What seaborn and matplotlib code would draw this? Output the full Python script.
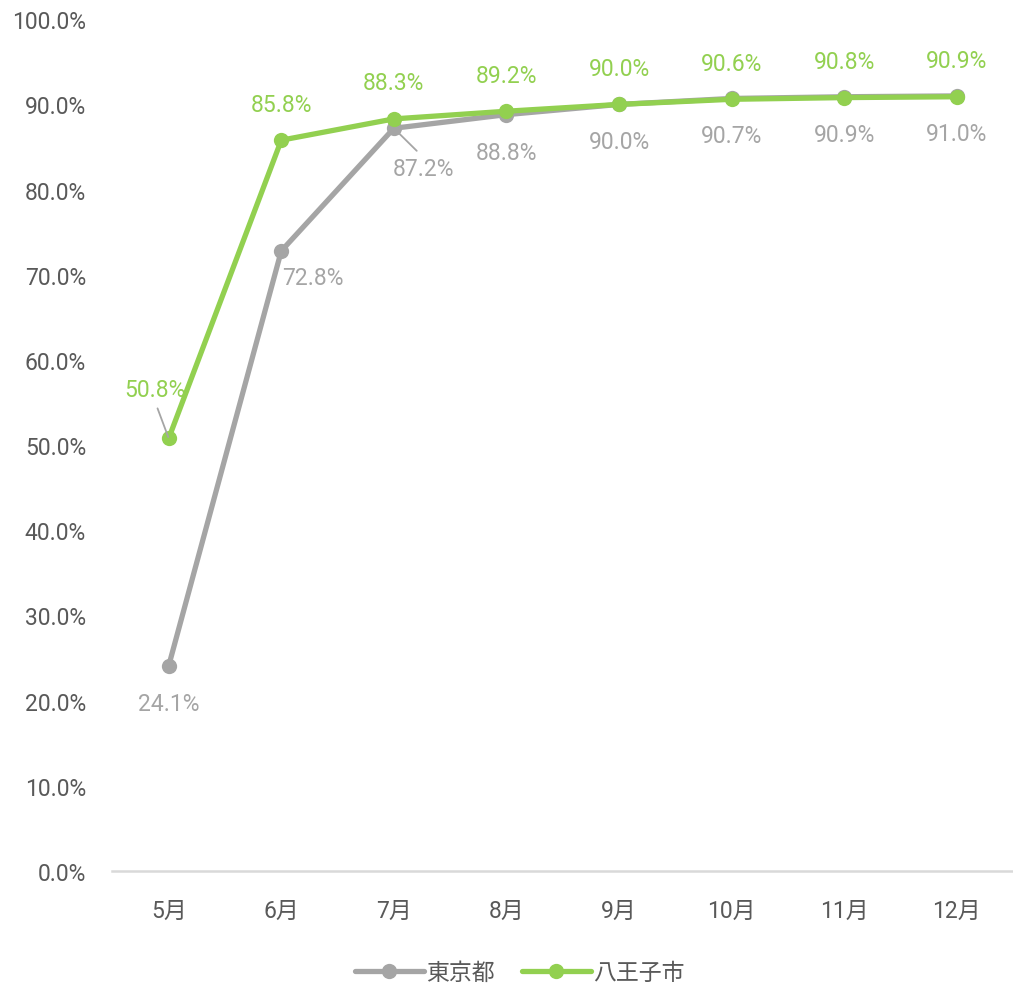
import matplotlib
matplotlib.use("Agg")
import matplotlib.pyplot as plt
from matplotlib.lines import Line2D
import seaborn as sns
import pandas as pd

months = ["5月", "6月", "7月", "8月", "9月", "10月", "11月", "12月"]
tokyo = [24.1, 72.8, 87.2, 88.8, 90.0, 90.7, 90.9, 91.0]
hachioji = [50.8, 85.8, 88.3, 89.2, 90.0, 90.6, 90.8, 90.9]
series_names = ["東京都", "八王子市"]

GRAY = "#A5A5A5"
GREEN = "#92D050"
TEXT = "#595959"

sns.set_theme(style="white")
plt.rcParams["font.family"] = ["Roboto", "Noto Sans CJK JP", "DejaVu Sans"]

df = pd.DataFrame({
    "month": months * 2,
    "value": tokyo + hachioji,
    "area": [series_names[0]] * len(months) + [series_names[1]] * len(months),
})

fig = plt.figure(figsize=(10.13, 9.87), dpi=100)
ax = fig.add_axes([0.111, 0.1165, 0.889, 0.863])

for name, color in zip(series_names, [GRAY, GREEN]):
    sub = df[df["area"] == name]
    sns.lineplot(data=sub, x="month", y="value", ax=ax, color=color,
                 linewidth=3.8, marker="o", markersize=11,
                 markeredgewidth=0, sort=False, legend=False)

fs = 16.5

ax.set_xlim(-0.5, len(months) - 0.5)
ax.set_ylim(0, 100)
ax.set_yticks(range(0, 101, 10))
ax.set_yticklabels([f"{v:.1f}%" for v in range(0, 101, 10)])
ax.set_xlabel("")
ax.set_ylabel("")
ax.tick_params(axis="both", colors=TEXT, labelsize=fs, length=0)
ax.tick_params(axis="x", pad=20)
ax.tick_params(axis="y", pad=19)

for side in ["top", "right", "left"]:
    ax.spines[side].set_visible(False)
ax.spines["bottom"].set_color("#D9D9D9")
ax.spines["bottom"].set_linewidth(1.8)

# Tokyo labels below the points
for i, v in enumerate(tokyo):
    kw = dict(ha="center", va="center", color=GRAY, fontsize=fs,
              textcoords="offset points")
    if i == 1:
        ax.annotate(f"{v:.1f}%", xy=(i, v), xytext=(23, -19), **kw)
    elif i == 2:
        ax.annotate(f"{v:.1f}%", xy=(i, v), xytext=(21, -29),
                    arrowprops=dict(arrowstyle="-", color=GRAY, lw=1.3,
                                    relpos=(0.5, 1.0), shrinkA=3, shrinkB=0),
                    **kw)
    else:
        ax.annotate(f"{v:.1f}%", xy=(i, v), xytext=(0, -27), **kw)

# Hachioji labels above the points
for i, v in enumerate(hachioji):
    kw = dict(ha="center", va="center", color=GREEN, fontsize=fs,
              textcoords="offset points")
    if i == 0:
        ax.annotate(f"{v:.1f}%", xy=(i, v), xytext=(-10, 35),
                    arrowprops=dict(arrowstyle="-", color=GRAY, lw=1.3,
                                    relpos=(0.5, 0.0), shrinkA=3, shrinkB=1),
                    **kw)
    else:
        ax.annotate(f"{v:.1f}%", xy=(i, v), xytext=(0, 26), **kw)

handles = [Line2D([0], [0], color=c, lw=3.8, marker="o", markersize=11,
                  markeredgewidth=0)
           for c in [GRAY, GREEN]]
leg = fig.legend(handles, series_names, loc="center", bbox_to_anchor=(0.513, 0.014),
                 ncol=2, frameon=False, fontsize=fs, handlelength=3.0,
                 handletextpad=0.1, columnspacing=1.2)
for t in leg.get_texts():
    t.set_color(TEXT)

fig.savefig("out.png", dpi=100)
